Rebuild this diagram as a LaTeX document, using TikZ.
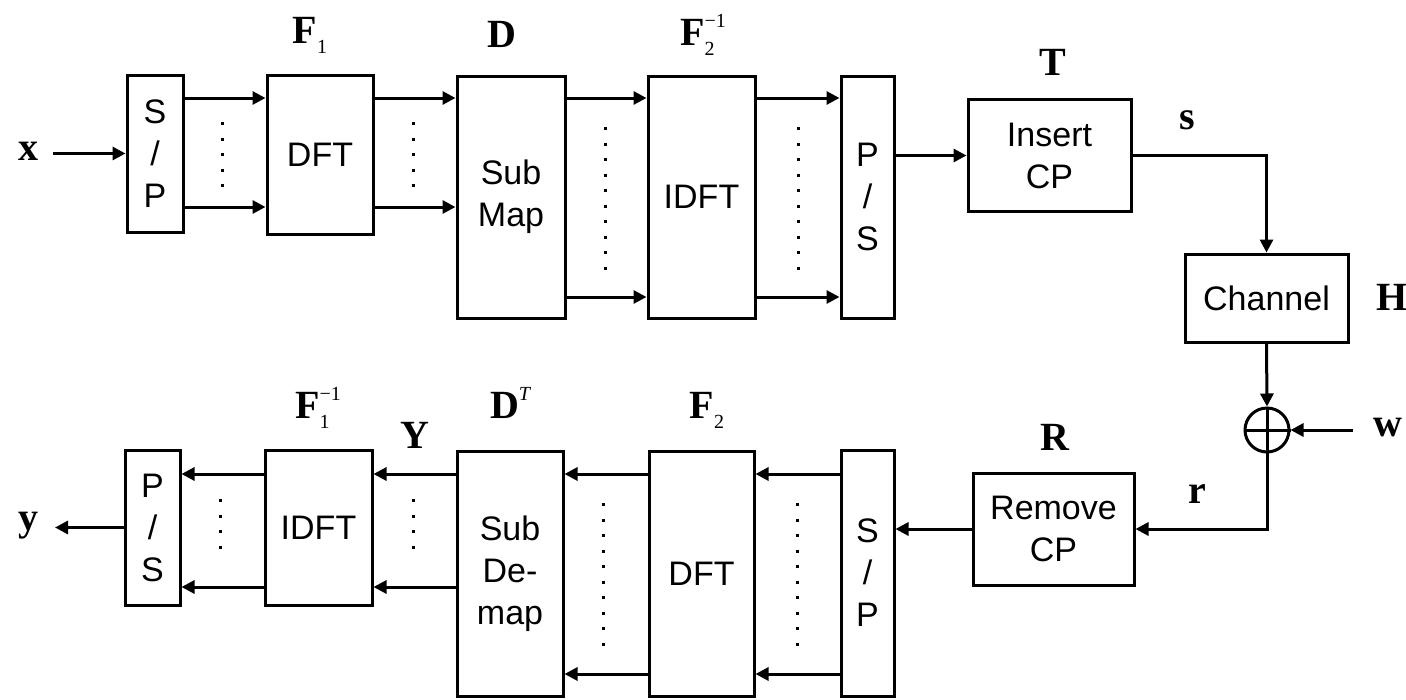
\documentclass[tikz,border=0pt]{standalone}
\usepackage{fontspec}
\setmainfont{Liberation Serif}
\newfontfamily\boxfont{Liberation Sans}
\usetikzlibrary{arrows.meta,calc}
\newcommand{\lblfont}{\fontsize{40}{44}\selectfont\bfseries}
\newcommand{\smallidx}[1]{{\fontsize{20}{20}\selectfont\mdseries #1}}
\begin{document}
\begin{tikzpicture}[x=1pt,y=-1pt,
  blk/.style={draw=black,line width=3pt,fill=white,inner sep=0pt,align=center,
    font=\boxfont\fontsize{34}{42}\selectfont},
  arr/.style={line width=3pt,-{Triangle[length=13pt,width=13pt]}},
  ln/.style={line width=3pt},
  dotv/.style={line width=3pt,dash pattern=on 3pt off 12.5pt},
  lbl/.style={inner sep=0pt,font=\lblfont}]
\useasboundingbox (0,0) rectangle (1406,699);
% top row
\node[blk,minimum width=56pt,minimum height=157pt] (sp1) at (155,153.5) {S\\/\\P};
\node[blk,minimum width=106pt,minimum height=159pt] (dft1) at (320,155) {DFT};
\node[blk,minimum width=108pt,minimum height=242pt] (map) at (511,197) {Sub\\Map};
\node[blk,minimum width=107pt,minimum height=242pt] (idft1) at (701.5,197) {IDFT};
\node[blk,minimum width=53pt,minimum height=242pt] (ps1) at (867.5,197) {P\\/\\S};
\node[blk,minimum width=163pt,minimum height=112pt] (cp1) at (1049.5,155.5) {Insert\\CP};
\node[blk,minimum width=163pt,minimum height=88pt] (chan) at (1266.5,298) {Channel};
\node[draw=black,line width=3pt,circle,minimum size=44pt,inner sep=0pt] (add) at (1267,430) {};
\draw[line width=3pt] (add.north) -- (add.south) (add.west) -- (add.east);
% bottom row
\node[blk,minimum width=161pt,minimum height=112pt] (cp2) at (1053.5,529) {Remove\\CP};
\node[blk,minimum width=53pt,minimum height=246pt] (sp2) at (867.5,573) {S\\/\\P};
\node[blk,minimum width=105pt,minimum height=245pt] (dft2) at (701.5,573.5) {DFT};
\node[blk,minimum width=106pt,minimum height=245pt] (demap) at (510,573.5) {Sub\\De-\\map};
\node[blk,minimum width=107pt,minimum height=155pt] (idft2) at (318.5,527.5) {IDFT};
\node[blk,minimum width=55pt,minimum height=155pt] (ps2) at (152.5,527.5) {P\\/\\S};
% row coordinates
\coordinate (ya) at (0,98);
\coordinate (yb) at (0,207);
\coordinate (yc) at (0,297);
\coordinate (yd) at (0,474);
\coordinate (ye) at (0,587);
\coordinate (yf) at (0,674);
\coordinate (xin) at (53,153.5);
\coordinate (yout) at (55,527.5);
\coordinate (win) at (1353,430);
% top connectors
\draw[arr] (xin) -- (sp1.west);
\draw[arr] (sp1.east |- ya) -- (dft1.west |- ya);
\draw[arr] (sp1.east |- yb) -- (dft1.west |- yb);
\draw[arr] (dft1.east |- ya) -- (map.west |- ya);
\draw[arr] (dft1.east |- yb) -- (map.west |- yb);
\draw[arr] (map.east |- ya) -- (idft1.west |- ya);
\draw[arr] (map.east |- yc) -- (idft1.west |- yc);
\draw[arr] (idft1.east |- ya) -- (ps1.west |- ya);
\draw[arr] (idft1.east |- yc) -- (ps1.west |- yc);
\draw[arr] (ps1.east |- cp1.west) -- (cp1.west);
\draw[arr] (cp1.east) -| (chan.north);
\draw[arr] (chan.south) -- (add.north);
\draw[arr] (win) -- (add.east);
\draw[arr] (add.south) |- (cp2.east);
\draw[arr] (cp2.west) -- (sp2.east |- cp2.west);
% bottom connectors
\draw[arr] (sp2.west |- yd) -- (dft2.east |- yd);
\draw[arr] (sp2.west |- yf) -- (dft2.east |- yf);
\draw[arr] (dft2.west |- yd) -- (demap.east |- yd);
\draw[arr] (dft2.west |- yf) -- (demap.east |- yf);
\draw[arr] (demap.west |- yd) -- (idft2.east |- yd);
\draw[arr] (demap.west |- ye) -- (idft2.east |- ye);
\draw[arr] (idft2.west |- yd) -- (ps2.east |- yd);
\draw[arr] (idft2.west |- ye) -- (ps2.east |- ye);
\draw[arr] (ps2.west) -- (yout);
% dots
\draw[dotv] (222,122) -- (222,188);
\draw[dotv] (413,122) -- (413,188);
\draw[dotv] (605,127) -- (605,270);
\draw[dotv] (798,127) -- (798,270);
\draw[dotv] (220,499) -- (220,560);
\draw[dotv] (413,499) -- (413,560);
\draw[dotv] (603,503) -- (603,647);
\draw[dotv] (797,503) -- (797,647);
% labels
\node[lbl] (lx) at (28,151) {x};
\node[lbl] (ly) at (28,526) {y};
\node[lbl,anchor=base] (lF1) at (310,43) {F\smallidx{\raisebox{-0.5em}{1}}};
\node[lbl,anchor=base] (lD) at (502,47) {D};
\node[lbl,anchor=base] (lF2i) at (703,45) {F\rlap{\smallidx{\raisebox{-0.5em}{2}}}\smallidx{\raisebox{0.9em}{−1}}};
\node[lbl,anchor=base] (lT) at (1053,75) {T};
\node[lbl] (ls) at (1187,120) {s};
\node[lbl] (lH) at (1392,297) {H};
\node[lbl] (lw) at (1388,428) {w};
\node[lbl,anchor=base] (lR) at (1055,450) {R};
\node[lbl] (lr) at (1197,494) {r};
\node[lbl,anchor=base] (lF1i) at (318,418) {F\rlap{\smallidx{\raisebox{-0.5em}{1}}}\smallidx{\raisebox{0.9em}{−1}}};
\node[lbl,anchor=base] (lY) at (415,448) {Y};
\node[lbl,anchor=base] (lDT) at (510,418) {D\smallidx{\raisebox{0.9em}{\itshape T}}};
\node[lbl,anchor=base] (lF2) at (707,418) {F\smallidx{\raisebox{-0.5em}{2}}};
\end{tikzpicture}
\end{document}
